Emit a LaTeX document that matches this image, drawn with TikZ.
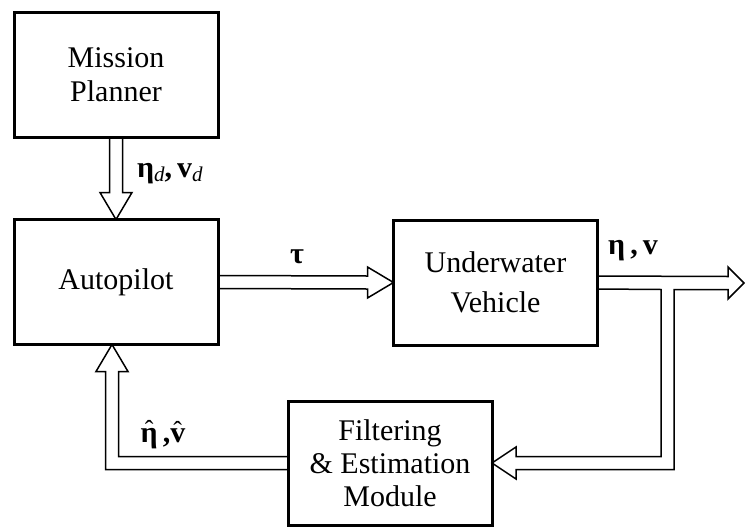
\documentclass[tikz,border=0pt]{standalone}
\usepackage{fontspec}
\setmainfont{Liberation Serif}
\usetikzlibrary{calc}
\newcommand{\subd}{\raisebox{-4pt}{\mdseries\itshape\fontsize{21}{22}\selectfont d}}
\newcommand{\hatb}[1]{\leavevmode\vbox{\offinterlineskip\halign{\hfil##\hfil\cr
  \mdseries\fontsize{26}{26}\selectfont ˆ\cr\noalign{\kern-11pt}#1\cr}}}
\begin{document}
\begin{tikzpicture}[x=1pt,y=-1pt,
  box/.style={draw, line width=3pt, minimum width=204pt, minimum height=125pt,
    inner sep=0pt, outer sep=0pt, align=center, font=\fontsize{30}{34}\selectfont},
  harrow/.style={draw, line width=1.5pt, line join=miter},
  lbl/.style={inner sep=0pt, font=\fontsize{30}{32}\selectfont\bfseries}]
\useasboundingbox (0,0) rectangle (745,528);

% boxes
\node[box] (mp) at (116,75) {Mission\\Planner};
\node[box] (ap) at (116,282) {Autopilot};
\node[box, font=\fontsize{30}{40}\selectfont] (uv) at (495.5,282.5) {Underwater\\Vehicle};
\node[box, minimum height=124pt, font=\fontsize{30}{33}\selectfont] (fe) at (390,463) {Filtering\\\& Estimation\\Module};

% helper coordinates
\coordinate (out) at (744,283);
\coordinate (br) at (667.5,463);
\coordinate (fb) at (112,463);

% Mission Planner -> Autopilot
\draw[harrow] ($(mp.south)+(-6.5,0)$) -- ($(ap.north)+(-6.5,-27)$) -- ($(ap.north)+(-16,-27)$)
  -- (ap.north) -- ($(ap.north)+(16,-27)$) -- ($(ap.north)+(6.5,-27)$) -- ($(mp.south)+(6.5,0)$);

% Autopilot -> Underwater Vehicle
\draw[harrow] ($(ap.east)+(0,-6.5)$) -- ($(uv.west)+(-26,-6.5)$) -- ($(uv.west)+(-26,-15.5)$)
  -- (uv.west) -- ($(uv.west)+(-26,15.5)$) -- ($(uv.west)+(-26,6.5)$) -- ($(ap.east)+(0,6.5)$);

% Underwater Vehicle -> output and -> Filtering
\draw[harrow] ($(uv.east)+(0,-6.5)$) -- ($(out)+(-16,-6.5)$) -- ($(out)+(-16,-16)$)
  -- (out) -- ($(out)+(-16,16)$) -- ($(out)+(-16,6.5)$) -- ($(br |- out)+(6.5,6.5)$)
  -- ($(br)+(6.5,6.5)$) -- ($(fe.east)+(24,6.5)$) -- ($(fe.east)+(24,16)$)
  -- (fe.east) -- ($(fe.east)+(24,-16)$) -- ($(fe.east)+(24,-6.5)$)
  -- ($(br)+(-6.5,-6.5)$) -- ($(br |- out)+(-6.5,6.5)$) -- ($(uv.east)+(0,6.5)$);

% Filtering -> Autopilot (feedback)
\draw[harrow] ($(fe.west)+(0,-6.5)$) -- ($(fb)+(6.5,-6.5)$) -- ($(fb |- ap.south)+(6.5,27)$)
  -- ($(fb |- ap.south)+(16,27)$) -- (fb |- ap.south) -- ($(fb |- ap.south)+(-16,27)$)
  -- ($(fb |- ap.south)+(-6.5,27)$) -- ($(fb)+(-6.5,6.5)$) -- ($(fe.west)+(0,6.5)$);

% labels
\node[lbl, anchor=west] (ld) at (137,174) {η\subd,\,v\subd};
\node[lbl] (lt) at (297,257) {τ};
\node[lbl] (lo) at (633,251) {η\,,\,v};
\node[lbl, anchor=base] (lf) at (163,442) {\hatb{η}\,,\hatb{v}};
\end{tikzpicture}
\end{document}
